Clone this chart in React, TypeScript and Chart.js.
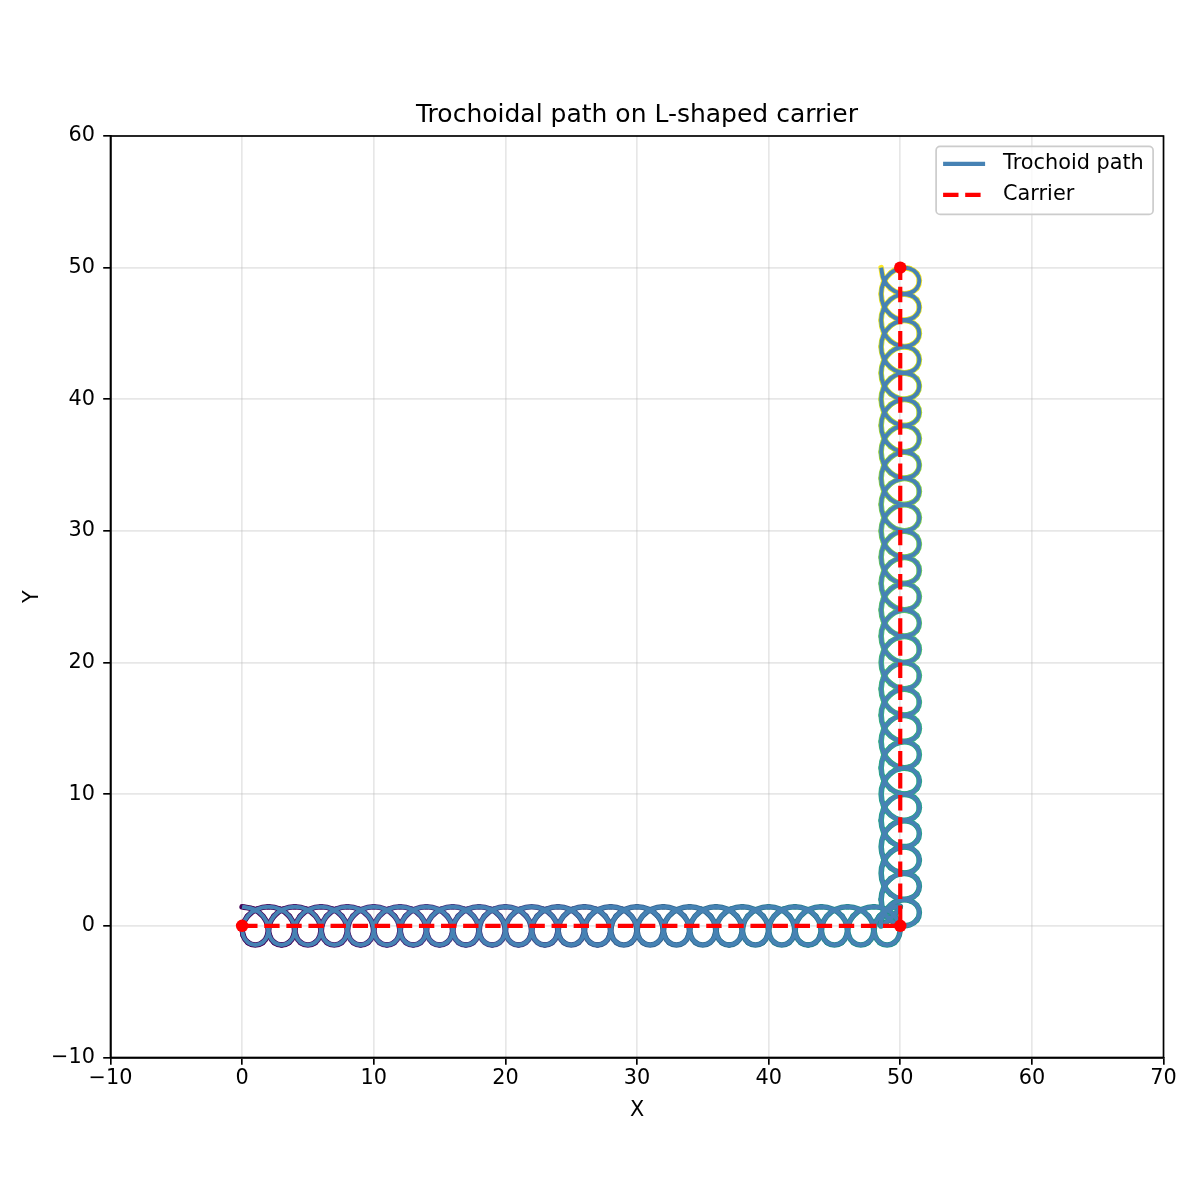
import React, { useEffect, useRef } from "react";
import { Chart, registerables } from "chart.js";

Chart.register(...registerables);

// corners of the L-shaped carrier
const carrierX = [0, 50, 50];
const carrierY = [0, 0, 50];

// one loop of the trochoid (12 points per loop):
// distance along the carrier leg, and offset to the left of the leg
const loopAlong = [0, 0.89, 1.59, 1.95, 1.92, 1.56, 1.0, 0.44, 0.08, 0.05, 0.41, 1.11];
const loopAcross = [1.45, 1.26, 0.73, 0, -0.73, -1.26, -1.45, -1.26, -0.73, 0, 0.73, 1.26];

// where each loop starts on a leg (25 loops per leg)
const loopStarts = [
    0, 2, 4, 6, 8, 10, 12, 14, 16, 18, 20, 22, 24, 26, 28, 30, 32, 34, 36, 38, 40, 42, 44, 46, 48,
];
const legLength = 50;

const xTicks = [-10, 0, 10, 20, 30, 40, 50, 60, 70];
const yTicks = [-10, 0, 10, 20, 30, 40, 50, 60];

// viridis stops for the coloured under-stroke
const viridis = [
    "#440154", "#482475", "#414487", "#355f8d", "#2a788e", "#21918c",
    "#22a884", "#44bf70", "#7ad151", "#bddf26", "#fde725",
];

type Pt = { x: number; y: number };

const buildLeg = (toXY: (along: number, across: number) => Pt): Pt[] => {
    const pts: Pt[] = [];
    loopStarts.forEach((start) => {
        loopAlong.forEach((a, i) => pts.push(toXY(start + a, loopAcross[i])));
    });
    pts.push(toXY(legLength, loopAcross[0]));
    return pts;
};

// bottom leg runs along +x (left side is +y), upright leg runs along +y (left side is -x)
const pathPts: Pt[] = [
    ...buildLeg((along, across) => ({ x: carrierX[0] + along, y: carrierY[0] + across })),
    ...buildLeg((along, across) => ({ x: carrierX[1] - across, y: carrierY[1] + along })),
];
const carrierPts: Pt[] = carrierX.map((x, i) => ({ x, y: carrierY[i] }));

const hex = (h: string) => [1, 3, 5].map((k) => parseInt(h.slice(k, k + 2), 16));
const viridisAt = (t: number) => {
    const p = Math.max(0, Math.min(1, t)) * (viridis.length - 1);
    const i = Math.min(Math.floor(p), viridis.length - 2);
    const f = p - i;
    const a = hex(viridis[i]);
    const b = hex(viridis[i + 1]);
    const c = a.map((v, k) => Math.round(v + (b[k] - v) * f));
    return `rgb(${c[0]},${c[1]},${c[2]})`;
};

const fmt = (v: number | string) => {
    const n = Number(v);
    return n < 0 ? "\u2212" + Math.abs(n) : String(n);
};

const FONT = "DejaVu Sans";
const tickFont = { family: FONT, size: 20.8 };
const gridColor = "rgba(176,176,176,0.3)";

// frame on all four sides + legend inside the top right corner
const framePlugin = {
    id: "frame",
    afterDatasetsDraw(chart: any) {
        const { ctx, chartArea } = chart;
        ctx.save();
        ctx.strokeStyle = "#000";
        ctx.lineWidth = 1.67;
        ctx.strokeRect(chartArea.left, chartArea.top, chartArea.right - chartArea.left, chartArea.bottom - chartArea.top);
        ctx.restore();
    },
    afterDraw(chart: any) {
        const { ctx, chartArea } = chart;
        const w = 217;
        const h = 68;
        const x0 = chartArea.right - 10.4 - w;
        const y0 = chartArea.top + 10.4;
        ctx.save();
        ctx.beginPath();
        ctx.roundRect(x0, y0, w, h, 4);
        ctx.fillStyle = "rgba(255,255,255,0.8)";
        ctx.fill();
        ctx.strokeStyle = "#cccccc";
        ctx.lineWidth = 1.7;
        ctx.stroke();

        const rows = [
            { label: "Trochoid path", color: "#4682b4", dash: [] as number[], y: y0 + 17.5 },
            { label: "Carrier", color: "#ff0000", dash: [15.4, 6.7], y: y0 + 48.5 },
        ];
        rows.forEach((r) => {
            ctx.beginPath();
            ctx.setLineDash(r.dash);
            ctx.strokeStyle = r.color;
            ctx.lineWidth = 4.2;
            ctx.moveTo(x0 + 7, r.y);
            ctx.lineTo(x0 + 49, r.y);
            ctx.stroke();
            ctx.setLineDash([]);
            ctx.fillStyle = "#000";
            ctx.font = `20.8px "${FONT}"`;
            ctx.textAlign = "left";
            ctx.textBaseline = "middle";
            ctx.fillText(r.label, x0 + 67, r.y);
        });
        ctx.restore();
    },
};

const App = () => {
    const chartRef = useRef<HTMLCanvasElement | null>(null);

    useEffect(() => {
        document.body.style.margin = "0";
        if (!chartRef.current) return;
        const ctx = chartRef.current.getContext("2d");
        if (!ctx) return;

        const chart = new Chart(ctx, {
            type: "scatter",
            data: {
                datasets: [
                    {
                        label: "Carrier",
                        data: carrierPts,
                        showLine: true,
                        borderColor: "#ff0000",
                        borderWidth: 4.2,
                        borderDash: [15.4, 6.7],
                        pointRadius: 6.25,
                        pointBackgroundColor: "#ff0000",
                        pointBorderWidth: 0,
                        tension: 0,
                        order: 0,
                    },
                    {
                        label: "Trochoid path",
                        data: pathPts,
                        showLine: true,
                        borderColor: "#4682b4",
                        borderWidth: 4,
                        borderJoinStyle: "round",
                        pointRadius: 0,
                        tension: 0.4,
                        order: 1,
                    },
                    {
                        label: "colour",
                        data: pathPts,
                        showLine: true,
                        borderColor: "#21918c",
                        borderWidth: 5.6,
                        borderCapStyle: "round",
                        borderJoinStyle: "round",
                        segment: {
                            borderColor: (c: any) => viridisAt(c.p0DataIndex / (pathPts.length - 1)),
                        },
                        pointRadius: 0,
                        tension: 0.4,
                        order: 2,
                    },
                ] as any,
            },
            options: {
                animation: false,
                responsive: true,
                maintainAspectRatio: false,
                events: [],
                layout: { padding: { left: 0, right: 36.5, top: 0, bottom: 0 } },
                plugins: {
                    legend: { display: false },
                    tooltip: { enabled: false },
                    title: {
                        display: true,
                        fullSize: false,
                        text: "Trochoidal path on L-shaped carrier",
                        color: "#000",
                        font: { family: FONT, size: 25, weight: "normal", lineHeight: 1.2 },
                        padding: { top: 100.5, bottom: 5.5 },
                    },
                },
                scales: {
                    x: {
                        type: "linear",
                        min: xTicks[0],
                        max: xTicks[xTicks.length - 1],
                        afterBuildTicks: (s: any) => {
                            s.ticks = xTicks.map((v) => ({ value: v }));
                        },
                        afterFit: (s: any) => {
                            s.height = 142.5;
                        },
                        ticks: { font: tickFont, color: "#000", padding: 1.7, maxRotation: 0, autoSkip: false, callback: fmt },
                        grid: { color: gridColor, lineWidth: 1.67, tickColor: "#000", tickLength: 7.3, tickWidth: 1.67 },
                        border: { color: "#000", width: 1.67 },
                        title: { display: true, text: "X", color: "#000", font: tickFont, padding: { top: 0, bottom: 76.5 } },
                    },
                    y: {
                        type: "linear",
                        min: yTicks[0],
                        max: yTicks[yTicks.length - 1],
                        afterBuildTicks: (s: any) => {
                            s.ticks = yTicks.map((v) => ({ value: v }));
                        },
                        afterFit: (s: any) => {
                            s.width = 110.5;
                        },
                        ticks: { font: tickFont, color: "#000", padding: 8.2, autoSkip: false, callback: fmt },
                        grid: { color: gridColor, lineWidth: 1.67, tickColor: "#000", tickLength: 7.3, tickWidth: 1.67 },
                        border: { color: "#000", width: 1.67 },
                        title: { display: true, text: "Y", color: "#000", font: tickFont, padding: { top: 20.5, bottom: 0 } },
                    },
                },
            } as any,
            plugins: [framePlugin],
        });

        return () => {
            chart.destroy();
        };
    }, []);

    return (
        <div style={{ width: "1200px", height: "1200px", position: "relative", background: "#fff" }}>
            <canvas ref={chartRef}></canvas>
        </div>
    );
};

export default App;
